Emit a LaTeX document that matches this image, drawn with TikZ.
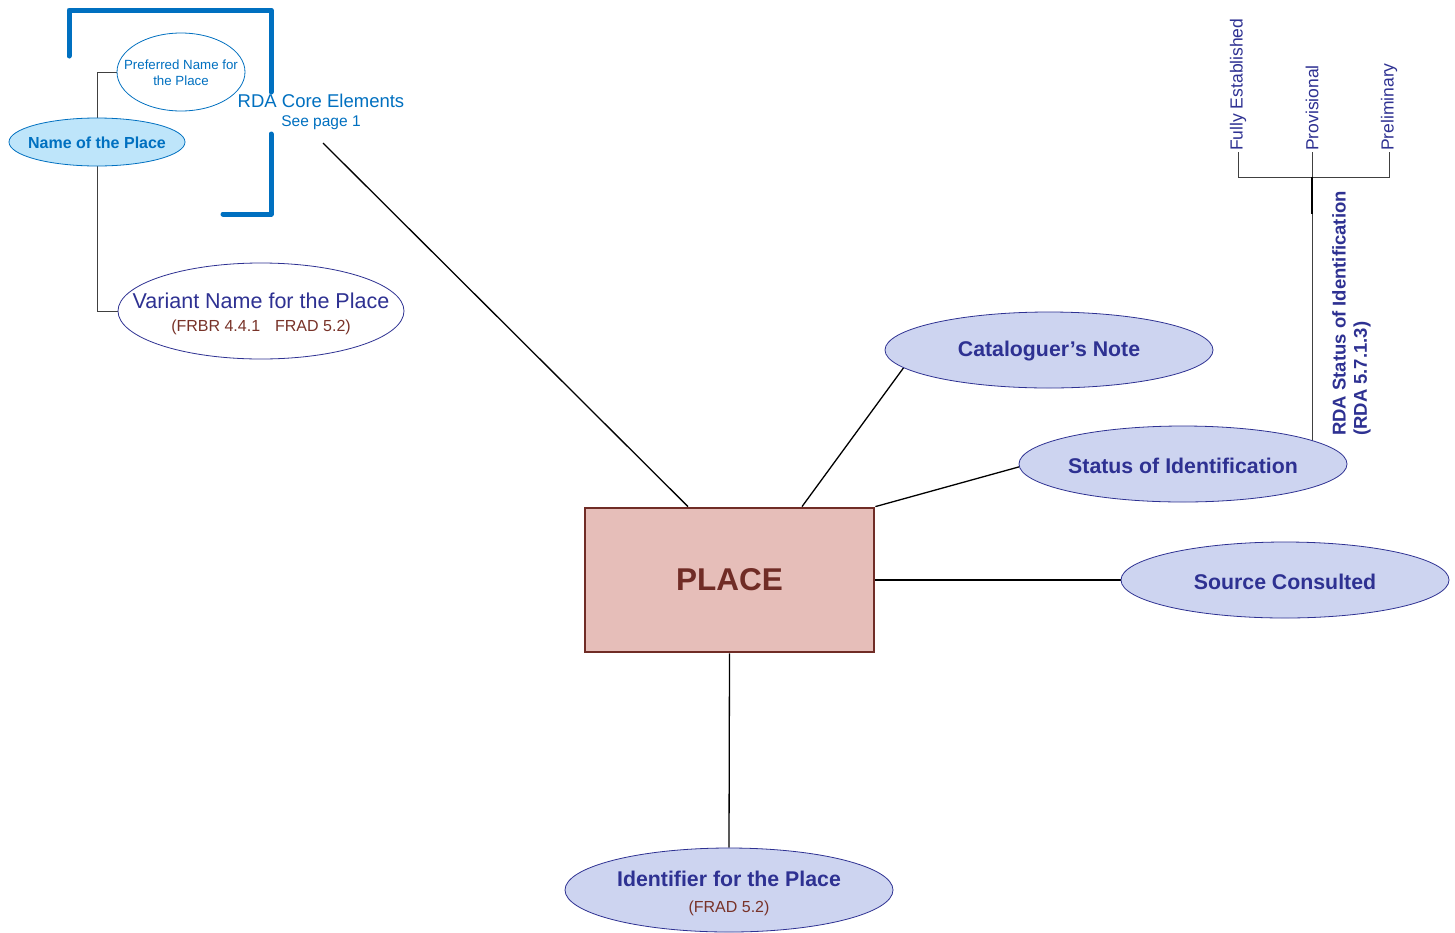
\documentclass[tikz,border=0pt]{standalone}
\usepackage{fontspec}
\setmainfont{Liberation Sans}
\usetikzlibrary{shapes.geometric,backgrounds}
\definecolor{coreblue}{RGB}{0,112,192}
\definecolor{darkblue}{RGB}{46,49,146}
\definecolor{subbrown}{RGB}{120,50,40}
\definecolor{lavender}{RGB}{205,212,240}
\definecolor{lightblue}{RGB}{190,229,250}
\definecolor{placefill}{RGB}{230,190,185}
\definecolor{placeborder}{RGB}{112,44,38}
\newcommand{\fsz}[1]{\fontsize{#1}{#1}\selectfont}
\begin{document}
\begin{tikzpicture}[x=1pt,y=-1pt,
  ell/.style={ellipse, inner sep=0pt, line width=0.8pt},
  attr/.style={ell, draw=darkblue, fill=lavender, minimum width=328pt, minimum height=76pt},
  attrtxt/.style={align=center, text=darkblue, font=\fsz{21.3}\bfseries, inner sep=0pt, yshift=-1.5pt},
  conn/.style={draw=black, line width=1.3pt},
  gconn/.style={draw=black!75, line width=1pt},
  vlabel/.style={rotate=90, anchor=west, inner sep=1pt, text=darkblue}]
\useasboundingbox (0,0) rectangle (1455,932);

% core bracket
\draw[coreblue, line width=5pt, line join=round, line cap=round] (69,56) -- (69,10) -- (271,10) -- (271,92);
\draw[coreblue, line width=5pt, line join=round, line cap=round] (271,134) -- (271,214) -- (223,214);

% nodes
\node[ell, draw=coreblue, fill=white, minimum width=128pt, minimum height=78pt,
  label={[align=center, text=coreblue, font=\fontsize{13.3}{16}\selectfont, inner sep=0pt, yshift=-1pt]center:Preferred Name for\\the Place}]
  (pref) at (181,72) {};
\node[ell, draw=coreblue, fill=lightblue, minimum width=176pt, minimum height=48pt,
  label={[text=coreblue, font=\fsz{16}\bfseries, inner sep=0pt, yshift=-1pt]center:Name of the Place}] (name) at (97,142) {};
\node[ell, draw=darkblue, fill=white, minimum width=286pt, minimum height=96pt,
  label={[align=center, text=darkblue, font=\fsz{21.5}, inner sep=0pt, yshift=-3pt]center:Variant Name for the Place\\[1pt]{\fsz{16}\color{subbrown}(FRBR 4.4.1\hspace{15pt}FRAD 5.2)}}]
  (variant) at (261,311) {};

\node[text=coreblue, font=\fsz{18.5}, inner sep=0pt] (core) at (321,101) {RDA Core Elements};
\node[text=coreblue, font=\fsz{15.5}, inner sep=0pt] (seepage) at (321,123) {See page 1};
\coordinate (corelink) at (323,143);

\node[rectangle, draw=placeborder, line width=2.8pt, fill=placefill, minimum width=289pt,
  minimum height=144pt, text=placeborder, font=\fsz{31.5}\bfseries] (place) at (729.5,580) {PLACE};

\node[attr, label={[attrtxt]center:Cataloguer’s Note}] (cat) at (1049,350) {};
\node[attr, label={[attrtxt]center:Status of Identification}] (status) at (1183,464) {};
\node[attr, label={[attrtxt]center:Source Consulted}] (source) at (1285,580) {};
\node[attr, minimum height=84pt,
  label={[attrtxt, yshift=-2pt]center:Identifier for the Place\\[4pt]{\fsz{16}\mdseries\color{subbrown}(FRAD 5.2)}}]
  (ident) at (729,890) {};

\node[vlabel, font=\fsz{17.5}] (fully) at (1238,152) {Fully Established};
\node[vlabel, font=\fsz{17.5}] (prov) at (1312,152) {Provisional};
\node[vlabel, font=\fsz{17.5}] (prelim) at (1389,152) {Preliminary};
\coordinate (junc) at (1312,177);
\node[vlabel, font=\fsz{18.5}\bfseries] (rdastat) at (1339,437) {RDA Status of Identification};
\node[vlabel, font=\fsz{18.5}\bfseries] (rdanum) at (1362,437) {(RDA 5.7.1.3)};

\begin{scope}[on background layer]
\fill[white] (0,0) rectangle (1455,932);
\draw[gconn] (name.north) |- (pref.west);
\draw[gconn] (name.south) |- (variant.west);
\draw[conn] (corelink) -- ([xshift=-41.5pt]place.north);
\draw[conn] ([xshift=72.5pt]place.north) -- (cat.187);
\draw[conn] (place.north east) -- (status.181);
\draw[conn] (place.east) -- (source.west);
\draw[conn] (place.south) -- (ident.north);
\draw[gconn] (fully.west) -- (fully.west |- junc) -- (prelim.west |- junc) -- (prelim.west);
\draw[gconn] (prov.west) -- (junc);
\draw[gconn] (junc) -- (junc |- status.center);
\draw[black, line width=2pt] (junc) -- ++(0,37);
\end{scope}
\end{tikzpicture}
\end{document}
